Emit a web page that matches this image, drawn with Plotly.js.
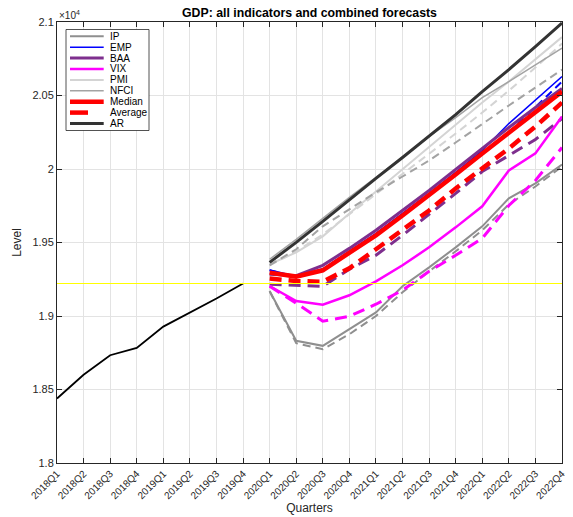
<!DOCTYPE html>
<html><head><meta charset="utf-8">
<script src="https://cdn.plot.ly/plotly-3.0.1.min.js"></script>
<style>html,body{margin:0;padding:0;background:#fff}#chart{width:573px;height:517px}</style>
</head><body><div id="chart"></div>
<script>
// ---- data ----
const quarters = ['2018Q1','2018Q2','2018Q3','2018Q4','2019Q1','2019Q2','2019Q3','2019Q4',
  '2020Q1','2020Q2','2020Q3','2020Q4','2021Q1','2021Q2','2021Q3','2021Q4',
  '2022Q1','2022Q2','2022Q3','2022Q4'];
const histQuarters = quarters.slice(0, 8);
const fcQuarters = quarters.slice(8);
const history = [18439, 18600, 18733, 18783, 18928, 19024, 19119, 19221];

const ipSolid   = [19170, 18831, 18797, 18910, 19024, 19202, 19331, 19467, 19610, 19800, 19902, 20031];
const ipDash    = [19168, 18815, 18774, 18876, 19000, 19161, 19304, 19440, 19583, 19759, 19881, 20017];
const empSolid  = [19313, 19270, 19321, 19440, 19562, 19698, 19834, 19977, 20126, 20309, 20466, 20629];
const empDash   = [19311, 19263, 19311, 19433, 19555, 19691, 19827, 19963, 20099, 20248, 20418, 20595];
const baaSolid  = [19284, 19274, 19345, 19460, 19583, 19718, 19854, 19997, 20140, 20282, 20418, 20547];
const baaDash   = [19216, 19209, 19202, 19318, 19413, 19549, 19691, 19834, 19983, 20092, 20201, 20343];
const vixSolid  = [19204, 19102, 19077, 19141, 19236, 19345, 19467, 19603, 19746, 19990, 20106, 20357];
const vixDash   = [19202, 19087, 18965, 18998, 19080, 19175, 19304, 19413, 19528, 19752, 19922, 20146];
const pmiSolid  = [19352, 19433, 19542, 19698, 19847, 19997, 20153, 20303, 20452, 20595, 20744, 20897];
const pmiDash   = [19345, 19440, 19555, 19691, 19827, 19963, 20099, 20241, 20384, 20533, 20690, 20853];
const nfciSolid = [19386, 19521, 19664, 19807, 19943, 20085, 20221, 20350, 20486, 20595, 20710, 20823];
const nfciDash  = [19345, 19454, 19610, 19725, 19841, 19949, 20058, 20180, 20309, 20432, 20554, 20676];
const median    = [19295, 19268, 19311, 19426, 19549, 19684, 19820, 19963, 20106, 20248, 20391, 20527];
const average   = [19255, 19238, 19233, 19325, 19454, 19589, 19718, 19868, 20004, 20140, 20289, 20452];
const arFc      = [19365, 19501, 19644, 19793, 19936, 20078, 20221, 20370, 20527, 20676, 20832, 20993];

const yTickVals = [18000, 18500, 19000, 19500, 20000, 20500, 21000];
const yTickText = ['1.8', '1.85', '1.9', '1.95', '2', '2.05', '2.1'];
const legendNames = ['IP', 'EMP', 'BAA', 'VIX', 'PMI', 'NFCI', 'Median', 'Average', 'AR'];

// ---- styles ----
const C = {ip:'#8f8f8f', emp:'#0000ff', baa:'#7e2f8e', vix:'#ff00ff', pmi:'#d4d4d4',
           nfci:'#a3a3a3', med:'#ff0000', avg:'#ff0000', ar:'#333333'};
const DTHIN = '8px,5px', DTHICK = '12px,7px';

function ln(y, color, width, dash) {
  return {type:'scatter', mode:'lines', x: fcQuarters, y: y, showlegend:false, hoverinfo:'skip',
          line:{color: color, width: width, dash: dash || 'solid'}};
}

const traces = [
  {type:'scatter', mode:'lines', x: histQuarters, y: history, showlegend:false,
   line:{color:'#000000', width:1.8}},
  ln(ipSolid, C.ip, 2), ln(ipDash, C.ip, 2, DTHIN),
  ln(empSolid, C.emp, 1.5), ln(empDash, C.emp, 2, DTHIN),
  ln(baaSolid, C.baa, 3), ln(baaDash, C.baa, 3, DTHICK),
  ln(vixSolid, C.vix, 2.5), ln(vixDash, C.vix, 3, DTHICK),
  ln(pmiSolid, C.pmi, 2), ln(pmiDash, C.pmi, 2, DTHIN),
  ln(nfciSolid, C.nfci, 1.5), ln(nfciDash, C.nfci, 2, DTHIN),
  ln(median, C.med, 4.5), ln(average, C.avg, 4.5, DTHICK),
  ln(arFc, C.ar, 3),
  {type:'scatter', mode:'lines', x:[quarters[0], quarters[quarters.length-1]],
   y:[history[history.length-1], history[history.length-1]], showlegend:false,
   line:{color:'#ffff00', width:1.2}}
];

// ---- custom legend (MATLAB-like compact box) ----
const L = 57, T = 22, W = 505, H = 441;
const px = x => (x - L) / W, py = y => 1 - (y - T) / H;
const legColors = [C.ip, C.emp, C.baa, C.vix, C.pmi, C.nfci, C.med, C.avg, C.ar];
const legWidths = [2, 1.5, 3, 2.5, 2, 1.5, 4.5, 4.5, 3];
const shapes = [{type:'rect', xref:'paper', yref:'paper', x0:px(66), x1:px(149), y0:py(29.5), y1:py(130.5),
  line:{color:'#262626', width:0.8}, fillcolor:'#ffffff', layer:'above'}];
const annotations = [];
legendNames.forEach((nm, i) => {
  const yc = 36.3 + 10.9 * i;
  const xEnd = nm === 'Average' ? 88 : 103.7;
  shapes.push({type:'line', xref:'paper', yref:'paper', x0:px(70), x1:px(xEnd), y0:py(yc), y1:py(yc),
    line:{color:legColors[i], width:legWidths[i]}, layer:'above'});
  annotations.push({xref:'paper', yref:'paper', x:px(108), y:py(yc), xanchor:'left', yanchor:'middle',
    text:nm, showarrow:false, font:{size:10, color:'#000000'}});
});
annotations.push({xref:'paper', yref:'paper', x:px(57), y:py(15), xanchor:'left', yanchor:'middle',
  text:'×10<sup>4</sup>', showarrow:false, font:{size:10, color:'#262626'}});

const axisCommon = {showline:true, linecolor:'#262626', linewidth:1, mirror:'ticks',
  ticks:'inside', ticklen:5, tickcolor:'#262626', showgrid:true, gridcolor:'#e3e3e3', gridwidth:1,
  zeroline:false};

const layout = {
  width:573, height:517, autosize:false,
  margin:{l:57, r:11, t:22, b:54},
  paper_bgcolor:'#ffffff', plot_bgcolor:'#ffffff',
  font:{family:'Liberation Sans, Arial, sans-serif', color:'#262626'},
  title:{text:'GDP: all indicators and combined forecasts', font:{size:12.3, weight:'bold', color:'#000000'},
    x:0.5, xref:'paper', xanchor:'center', y:1 - 13/517, yref:'container', yanchor:'middle'},
  xaxis: Object.assign({}, axisCommon, {type:'category', categoryorder:'array', categoryarray:quarters,
    range:[0, quarters.length - 1], tickangle:-45, tickfont:{size:10, color:'#262626'},
    title:{text:'Quarters', font:{size:12, color:'#262626'}, standoff:2}}),
  yaxis: Object.assign({}, axisCommon, {range:[18000, 21000], tickvals:yTickVals, ticktext:yTickText,
    tickfont:{size:11, color:'#262626'}, title:{text:'Level', font:{size:12, color:'#262626'}, standoff:8}}),
  shapes: shapes,
  annotations: annotations,
  showlegend:false
};

Plotly.newPlot('chart', traces, layout, {staticPlot:true, displayModeBar:false});
</script>
</body></html>
